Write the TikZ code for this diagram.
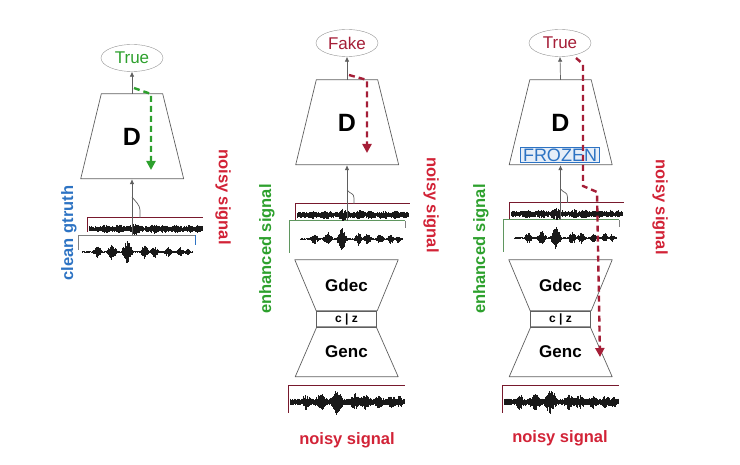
\documentclass[tikz,border=0pt]{standalone}
\usepackage{fontspec}
\setmainfont{Liberation Sans}
\usetikzlibrary{shapes.geometric,arrows.meta}
\definecolor{sigred}{RGB}{210,35,55}
\definecolor{outred}{RGB}{165,30,55}
\definecolor{siggreen}{RGB}{45,160,45}
\definecolor{sigblue}{RGB}{45,115,195}
\definecolor{framered}{RGB}{120,25,45}
\definecolor{framegreen}{RGB}{95,150,95}
\definecolor{edgegray}{RGB}{95,95,95}
\pgfmathdeclarefunction{speechenv}{1}{%
  \pgfmathparse{5*max(0,1-abs(#1-0.14)/0.045)+6*max(0,1-abs(#1-0.27)/0.055)+10*max(0,1-abs(#1-0.41)/0.06)+6*max(0,1-abs(#1-0.57)/0.045)+5*max(0,1-abs(#1-0.66)/0.045)+4*max(0,1-abs(#1-0.78)/0.045)+4*max(0,1-abs(#1-0.89)/0.04)+3*max(0,1-abs(#1-0.96)/0.03)}%
}
\newcommand{\sigwave}[6]{%
        \pgfmathsetseed{#4}
        \draw[wave] \foreach \i in {0,...,240}{
                ({#1+\i/240*(#2-#1)},{#3-(#5+#6*speechenv(\i/240))*(0.35+0.65*rnd)}) -- ({#1+\i/240*(#2-#1)},{#3+(#5+#6*speechenv(\i/240))*(0.35+0.65*rnd)})
        };
}
\tikzset{
        outcome/.style={ellipse, draw=gray!85, thin, minimum width=62pt, minimum height=27pt, inner sep=0pt, font=\fontsize{17}{17}\selectfont},
        disc/.style={rectangle, minimum width=61pt, minimum height=85pt, inner sep=0pt, font=\bfseries\fontsize{25}{25}\selectfont},
        gdec/.style={rectangle, minimum width=103pt, minimum height=51pt, inner sep=0pt, font=\bfseries\fontsize{17}{17}\selectfont},
        genc/.style={rectangle, minimum width=59pt, minimum height=50pt, inner sep=0pt, font=\bfseries\fontsize{17}{17}\selectfont},
        block/.style={draw=edgegray, line width=0.7pt, line join=round},
        code/.style={rectangle, draw=edgegray, line width=0.7pt, minimum width=60pt, minimum height=16pt, inner sep=0pt, font=\bfseries\fontsize{12}{12}\selectfont},
        frozen/.style={draw=sigblue, fill=sigblue!12, text=sigblue, inner xsep=2.5pt, inner ysep=1pt, font=\fontsize{18}{18}\selectfont},
        sigtag/.style={font=\bfseries\fontsize{16.5}{16.5}\selectfont, inner sep=0pt},
        feed/.style={draw=edgegray, line width=0.7pt},
        tip/.style={-{Latex[length=5pt,width=4.5pt]}},
        wave/.style={line width=0.6pt, black!90},
        backprop/.style={line width=2.4pt, dash pattern=on 6pt off 4pt, -{Triangle[length=9pt,width=9pt]}}
}
\begin{document}
\begin{tikzpicture}[x=1pt, y=-1pt]
        \useasboundingbox (0,0) rectangle (740,465);
        \node[outcome, text=siggreen] (t1) at (132,58) {True};
        \node[disc] (d1) at (132,136.5) {D};
        \draw[block] (d1.north west) -- (d1.north east) -- ++(21,85) -- ++(-103,0) -- cycle;
        \node[sigtag, text=sigred, rotate=-90] (l1) at (223,197) {noisy signal};
        \node[sigtag, text=sigblue, rotate=90] (g1) at (69,233) {clean gtruth};
        \coordinate (n1) at (140,218);
        \coordinate (c1) at (132,235);
        \coordinate (j1) at (132,197);
        \coordinate (b1s) at (134,88);
        \coordinate (b1m) at (151,94);
        \coordinate (b1e) at (151,170);
        \draw[framered, line width=1pt] (87,232) |- (203,218);
        \draw[gray, line width=0.8pt] (78,250) |- (195,235);
        \draw[sigblue, line width=0.8pt] (195,235) -- (195,245);
        \sigwave{89}{202}{229}{11}{3}{0.35}
        \sigwave{82}{192}{252}{12}{0.7}{1.2}
        \draw[feed, tip] (c1) -- (d1.south);
        \draw[feed] (n1) -- ++(0,-8) .. controls +(0,-5) and +(3,4) .. (j1);
        \draw[feed, tip] (d1.north) -- (t1.south);
        \draw[backprop, siggreen] (b1s) -- (b1m) -- (b1e);

        \node[outcome, text=outred] (t2) at (347,43) {Fake};
        \node[disc] (d2) at (347,122.5) {D};
        \draw[block] (d2.north west) -- (d2.north east) -- ++(21,85) -- ++(-103,0) -- cycle;
        \node[gdec] (gd2) at (346.5,285.5) {Gdec};
        \draw[block] (gd2.north west) -- (gd2.north east) -- ++(-21,51) -- ++(-61,0) -- cycle;
        \node[code] (z2) at (346.5,319) {c | z};
        \node[genc] (ge2) at (346.5,352) {Genc};
        \draw[block] (ge2.north west) -- (ge2.north east) -- ++(22,50) -- ++(-103,0) -- cycle;
        \node[sigtag, text=sigred] (l2b) at (347,440) {noisy signal};
        \node[sigtag, text=siggreen, rotate=90] (e2) at (267,249) {enhanced signal};
        \node[sigtag, text=sigred, rotate=-90] (l2) at (431,205) {noisy signal};
        \coordinate (n2) at (354,204);
        \coordinate (c2) at (347,221);
        \coordinate (j2) at (347,190);
        \coordinate (b2s) at (349,75);
        \coordinate (b2m) at (367,80);
        \coordinate (b2e) at (367,153);
        \draw[framered, line width=1pt] (295,220) |- (410,204);
        \draw[framegreen, line width=1pt] (289,253) |- (405,221);
        \draw[gray, line width=0.8pt] (405,221) -- (405,228);
        \draw[framered, line width=1pt] (288,413) |- (405,386);
        \sigwave{297}{408}{215}{21}{3}{0.35}
        \sigwave{300}{402}{239}{22}{0.7}{1.2}
        \sigwave{290}{404}{402}{23}{3.5}{0.95}
        \draw[feed, tip] (c2) -- (d2.south);
        \draw[feed] (n2) -- ++(0,-6) .. controls +(0,-5) and +(3,4) .. (j2);
        \draw[feed, tip] (d2.north) -- (t2.south);
        \draw[backprop, outred] (b2s) -- (b2m) -- (b2e);

        \node[outcome, text=outred] (t3) at (560,43) {True};
        \node[disc] (d3) at (560.5,122.5) {D};
        \draw[block] (d3.north west) -- (d3.north east) -- ++(21,85) -- ++(-103,0) -- cycle;
        \node[frozen] (f3) at (560,155) {FROZEN};
        \node[gdec] (gd3) at (560.5,285.5) {Gdec};
        \draw[block] (gd3.north west) -- (gd3.north east) -- ++(-21,51) -- ++(-61,0) -- cycle;
        \node[code] (z3) at (560.5,319) {c | z};
        \node[genc] (ge3) at (560.5,352) {Genc};
        \draw[block] (ge3.north west) -- (ge3.north east) -- ++(22,50) -- ++(-103,0) -- cycle;
        \node[sigtag, text=sigred] (l3b) at (560,438) {noisy signal};
        \node[sigtag, text=siggreen, rotate=90] (e3) at (481,249) {enhanced signal};
        \node[sigtag, text=sigred, rotate=-90] (l3) at (660,207) {noisy signal};
        \coordinate (n3) at (567.5,203);
        \coordinate (c3) at (560.5,220);
        \coordinate (j3) at (560.5,189);
        \coordinate (b3s) at (576,58);
        \coordinate (b3a) at (583,64);
        \coordinate (b3b) at (583,186);
        \coordinate (b3c) at (597,192);
        \coordinate (b3e) at (600,357);
        \draw[framered, line width=1pt] (509,219) |- (624,203);
        \draw[framegreen, line width=1pt] (503,252) |- (619,220);
        \draw[gray, line width=0.8pt] (619,220) -- (619,227);
        \draw[framered, line width=1pt] (502,413) |- (619,386);
        \sigwave{511}{622}{214}{31}{3}{0.35}
        \sigwave{514}{616}{238}{32}{0.7}{1.2}
        \sigwave{504}{618}{402}{33}{3.5}{0.95}
        \draw[feed, tip] (c3) -- (d3.south);
        \draw[feed] (n3) -- ++(0,-6) .. controls +(0,-5) and +(3,4) .. (j3);
        \draw[feed, tip] (d3.north) -- (t3.south);
        \draw[backprop, outred] (b3s) -- (b3a) -- (b3b) -- (b3c) -- (b3e);
\end{tikzpicture}
\end{document}
